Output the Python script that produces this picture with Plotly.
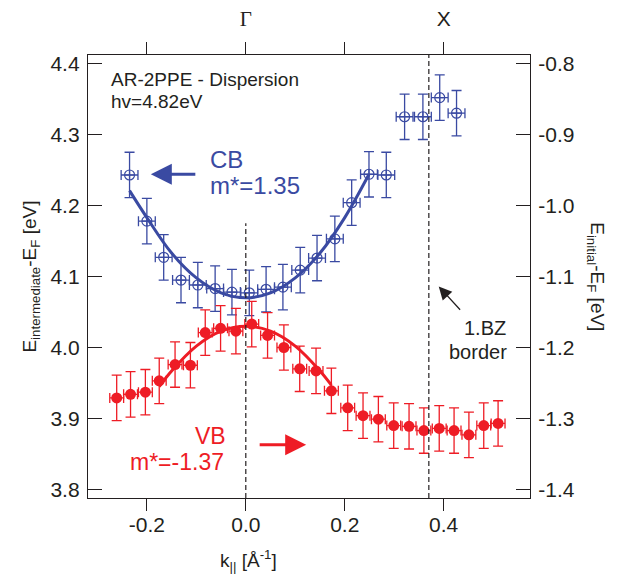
import plotly.graph_objects as go

# ---- data ----
cb_k = [-0.235, -0.200, -0.166, -0.131, -0.097, -0.062, -0.028, 0.007, 0.041, 0.075,
        0.110, 0.144, 0.180, 0.214, 0.249, 0.284, 0.321, 0.358, 0.392, 0.426]
cb_E = [4.243, 4.178, 4.127, 4.095, 4.088, 4.083, 4.078, 4.077, 4.082, 4.085,
        4.109, 4.126, 4.153, 4.204, 4.244, 4.243, 4.325, 4.325, 4.352, 4.330]
cb_err_E = 0.032
cb_err_k = 0.017

vb_k = [-0.261, -0.233, -0.203, -0.175, -0.143, -0.112, -0.082, -0.051, -0.020, 0.012,
        0.044, 0.077, 0.109, 0.142, 0.173, 0.206, 0.237, 0.268, 0.299, 0.330,
        0.360, 0.391, 0.421, 0.451, 0.481, 0.510]
vb_E = [3.929, 3.934, 3.937, 3.953, 3.976, 3.975, 4.021, 4.027, 4.023, 4.033,
        4.017, 4.000, 3.970, 3.967, 3.939, 3.915, 3.904, 3.899, 3.890, 3.889,
        3.883, 3.886, 3.883, 3.877, 3.890, 3.893]
vb_err_E = 0.032
vb_err_k = 0.014

# fit curves
cb_fit_k = [-0.235, -0.20, -0.15, -0.10, -0.05, 0.0, 0.05, 0.10, 0.15, 0.20, 0.249]
cb_fit_E = [4.221, 4.183, 4.133, 4.098, 4.077, 4.070, 4.077, 4.098, 4.133, 4.183, 4.244]
vb_fit_k = [-0.175, -0.15, -0.10, -0.05, 0.0, 0.05, 0.10, 0.15, 0.173]
vb_fit_E = [3.945, 3.967, 4.002, 4.023, 4.030, 4.023, 4.002, 3.967, 3.947]

x_ticks = [-0.2, 0.0, 0.2, 0.4]
x_tick_labels = ["-0.2", "0.0", "0.2", "0.4"]
top_tick_labels = ["", "<span style=\"font-family:'Liberation Serif', 'DejaVu Serif', serif\">Γ</span>", "", "X"]
y_ticks = [3.8, 3.9, 4.0, 4.1, 4.2, 4.3, 4.4]
y_tick_labels = ["3.8", "3.9", "4.0", "4.1", "4.2", "4.3", "4.4"]
y2_ticks = [-1.4, -1.3, -1.2, -1.1, -1.0, -0.9, -0.8]
y2_tick_labels = ["-1.4", "-1.3", "-1.2", "-1.1", "-1.0", "-0.9", "-0.8"]
energy_offset = 5.2   # right axis = left axis - offset
bz_border = 0.370

x_range = [-0.319, 0.5745]
y_range = [3.788, 4.412]

BLUE = "#3A4AA2"
RED = "#EE1C25"
INK = "#231F20"
FONT = "Liberation Sans, Arial, Helvetica, sans-serif"

fig = go.Figure()

fig.add_trace(go.Scatter(
    x=cb_fit_k, y=cb_fit_E, mode="lines", line=dict(color=BLUE, width=3, shape="spline"),
    hoverinfo="skip", showlegend=False))
fig.add_trace(go.Scatter(
    x=vb_fit_k, y=vb_fit_E, mode="lines", line=dict(color=RED, width=3, shape="spline"),
    hoverinfo="skip", showlegend=False))

fig.add_trace(go.Scatter(
    x=cb_k, y=cb_E, mode="markers",
    marker=dict(symbol="circle-cross-open", size=10, color=BLUE, line=dict(width=1.2, color=BLUE)),
    error_y=dict(type="constant", value=cb_err_E, color=BLUE, thickness=1.3, width=5),
    error_x=dict(type="constant", value=cb_err_k, color=BLUE, thickness=1.3, width=5),
    showlegend=False))
fig.add_trace(go.Scatter(
    x=vb_k, y=vb_E, mode="markers",
    marker=dict(symbol="circle", size=11, color=RED, line=dict(width=0)),
    error_y=dict(type="constant", value=vb_err_E, color=RED, thickness=1.3, width=5),
    error_x=dict(type="constant", value=vb_err_k, color=RED, thickness=1.3, width=5),
    showlegend=False))

# invisible traces to activate the secondary axes
fig.add_trace(go.Scatter(x=[x_range[0]], y=[y_range[0] - energy_offset], yaxis="y2",
                         mode="markers", marker=dict(opacity=0), hoverinfo="skip", showlegend=False))
fig.add_trace(go.Scatter(x=[x_range[0]], y=[y_range[0]], xaxis="x2",
                         mode="markers", marker=dict(opacity=0), hoverinfo="skip", showlegend=False))

# dashed lines
fig.add_shape(type="line", xref="x", yref="y", x0=0, x1=0, y0=y_range[0], y1=4.175,
              line=dict(color=INK, width=1.2, dash="5px,3px"))
fig.add_shape(type="line", xref="x", yref="y", x0=bz_border, x1=bz_border, y0=y_range[0], y1=y_range[1],
              line=dict(color=INK, width=1.2, dash="5px,3px"))

ann = []
ann.append(dict(x=-0.276, y=4.377, xref="x", yref="y", xanchor="left", yanchor="middle",
                text="AR-2PPE - Dispersion", showarrow=False, font=dict(size=19, color=INK, family=FONT)))
ann.append(dict(x=-0.276, y=4.346, xref="x", yref="y", xanchor="left", yanchor="middle",
                text="hv=4.82eV", showarrow=False, font=dict(size=19, color=INK, family=FONT)))
ann.append(dict(x=-0.077, y=4.265, xref="x", yref="y", xanchor="left", yanchor="middle",
                text="CB", showarrow=False, font=dict(size=24, color=BLUE, family=FONT)))
ann.append(dict(x=-0.077, y=4.228, xref="x", yref="y", xanchor="left", yanchor="middle",
                text="m*=1.35", showarrow=False, font=dict(size=24, color=BLUE, family=FONT)))
ann.append(dict(x=-0.072, y=3.876, xref="x", yref="y", xanchor="center", yanchor="middle",
                text="VB", showarrow=False, font=dict(size=23, color=RED, family=FONT)))
ann.append(dict(x=-0.140, y=3.839, xref="x", yref="y", xanchor="center", yanchor="middle",
                text="m*=-1.37", showarrow=False, font=dict(size=23, color=RED, family=FONT)))
ann.append(dict(x=0.484, y=4.027, xref="x", yref="y", xanchor="center", yanchor="middle",
                text="1.BZ", showarrow=False, font=dict(size=20, color=INK, family=FONT)))
ann.append(dict(x=0.470, y=3.994, xref="x", yref="y", xanchor="center", yanchor="middle",
                text="border", showarrow=False, font=dict(size=20, color=INK, family=FONT)))
# arrows
ann.append(dict(x=-0.192, y=4.244, ax=-0.099, ay=4.244, xref="x", yref="y", axref="x", ayref="y",
                text="", showarrow=True, arrowhead=2, arrowsize=1.4, arrowwidth=3, arrowcolor=BLUE))
ann.append(dict(x=0.122, y=3.863, ax=0.025, ay=3.863, xref="x", yref="y", axref="x", ayref="y",
                text="", showarrow=True, arrowhead=2, arrowsize=1.4, arrowwidth=3, arrowcolor=RED))
ann.append(dict(x=0.390, y=4.086, ax=0.436, ay=4.051, xref="x", yref="y", axref="x", ayref="y",
                text="", showarrow=True, arrowhead=2, arrowsize=2, arrowwidth=1.3, arrowcolor=INK))
# axis titles
ann.append(dict(x=-0.131, y=0.5, xref="paper", yref="paper", xanchor="center", yanchor="middle",
                text="E<sub>intermediate</sub>-E<sub>F</sub> [eV]", textangle=-90, showarrow=False,
                font=dict(size=19, color=INK, family=FONT)))
ann.append(dict(x=1.150, y=0.5, xref="paper", yref="paper", xanchor="center", yanchor="middle",
                text="E<sub>initial</sub>-E<sub>F</sub> [eV]", textangle=90, showarrow=False,
                font=dict(size=19, color=INK, family=FONT)))
ann.append(dict(x=0.362, y=-0.141, xref="paper", yref="paper", xanchor="center", yanchor="middle",
                text="k<sub>||</sub> [Å<sup>-1</sup>]", showarrow=False,
                font=dict(size=19, color=INK, family=FONT)))

axis_common = dict(showgrid=False, zeroline=False, showline=True, linecolor=INK, linewidth=1.3,
                   tickcolor=INK, tickwidth=1.3, automargin=False,
                   tickfont=dict(size=21, color=INK, family=FONT))

# the page body adds an 8 px margin, so the figure is 8 px smaller and margins shifted
fig.update_layout(
    width=612, height=567,
    margin=dict(l=80, r=90, t=47, b=77),
    paper_bgcolor="white", plot_bgcolor="white",
    showlegend=False,
    annotations=ann,
    xaxis=dict(range=x_range, tickmode="array", tickvals=x_ticks, ticktext=x_tick_labels,
               ticks="outside", ticklen=12, ticklabelstandoff=-4, **axis_common),
    xaxis2=dict(range=x_range, overlaying="x", side="top", tickmode="array", tickvals=x_ticks,
                ticktext=top_tick_labels, ticks="outside", ticklen=12, anchor="y",
                ticklabelstandoff=7, **axis_common),
    yaxis=dict(range=y_range, tickmode="array", tickvals=y_ticks, ticktext=y_tick_labels,
               ticks="inside", ticklen=14, ticklabelstandoff=3, **axis_common),
    yaxis2=dict(range=[y_range[0] - energy_offset, y_range[1] - energy_offset], overlaying="y", side="right",
                tickmode="array", tickvals=y2_ticks, ticktext=y2_tick_labels,
                ticks="inside", ticklen=14, anchor="x", ticklabelstandoff=3, **axis_common),
)

fig.write_html("out.html")
